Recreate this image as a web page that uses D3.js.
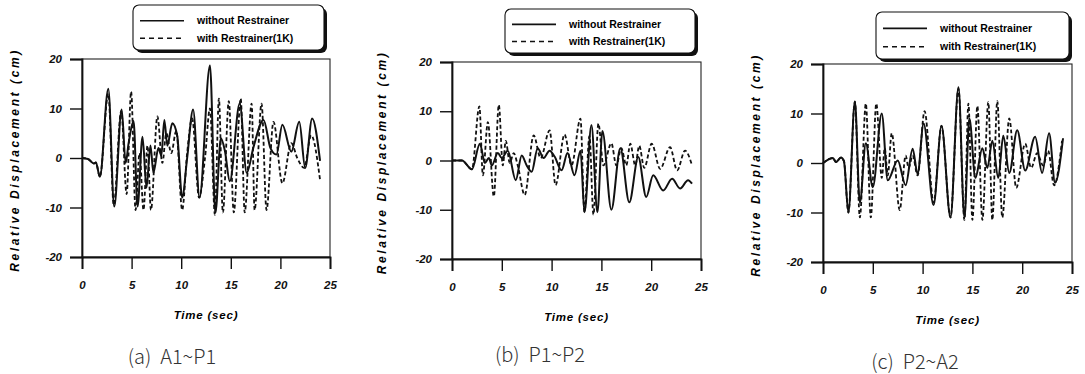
<!DOCTYPE html>
<html>
<head>
<meta charset="utf-8">
<script src="https://cdn.jsdelivr.net/npm/d3@7"></script>
<style>
  body { margin: 0; background: #fff; }
  svg { display: block; }
  .tick text { font-family: "Liberation Sans", Arial, sans-serif; font-weight: bold; font-style: italic; font-size: 11.5px; fill: #111; }
  .tick line { stroke: #111; stroke-width: 1.4; }
</style>
</head>
<body>
<svg id="chart" width="1085" height="374"></svg>
<script>
// tick values and labels
const timeTicks = [0, 5, 10, 15, 20, 25];
const dispTicks = [-20, -10, 0, 10, 20];
const legendLabels = ["without Restrainer", "with Restrainer(1K)"];
const captions = ["(a)  A1~P1", "(b)  P1~P2", "(c)  P2~A2"];
const xTitle = "Time (sec)";
const yTitle = "Relative Displacement (cm)";

// (a) A1-P1, [time sec, displacement cm] at turning points
const a1p1Without = [[0,0],[0.6,-0.2],[1.2,-1.1],[1.4,-0.9],[1.8,-3.8],[2.65,14],[3.25,-9.8],[4.0,9.8],[4.4,-1],[4.7,3],[5.2,7.5],[5.6,-9.8],[6.1,4.3],[6.5,-6],[6.9,2.5],[7.2,-3],[7.7,2],[8.0,0.5],[8.3,7.7],[8.6,2.5],[9.1,7],[9.6,4.5],[10.1,-8],[10.6,0],[11.2,9.8],[11.85,-8],[12.9,18.7],[13.45,-11],[14.0,4],[14.4,1.5],[14.9,-4.7],[15.9,11],[16.6,-3],[17.3,2.3],[18.3,7.7],[19.0,2],[19.6,0.7],[20.2,6.7],[21.1,1.3],[21.9,7.3],[22.5,-2],[23.2,8],[24.0,-0.6]];
const a1p1With = [[0,0],[0.6,-0.2],[1.2,-1.1],[1.4,-0.9],[1.8,-3.8],[2.65,13],[3.2,-9.5],[3.95,9.5],[4.5,-7.3],[4.95,13.4],[5.4,-10.5],[5.8,1],[6.2,-10.5],[6.6,2.5],[6.95,-10.5],[7.6,8.4],[8.1,-1],[8.5,5],[9.0,1],[9.5,5.5],[10.1,-10.5],[10.6,1],[11.1,8],[11.8,-8],[12.4,0],[12.9,10],[13.4,-11.5],[13.8,12],[14.2,-11],[14.8,11.5],[15.3,-11],[16.0,12],[16.4,-11],[17.1,11],[17.4,-10.5],[18.1,11],[18.6,-10.5],[19.3,7.3],[20.2,-5.1],[21.1,3],[21.7,0],[22.4,-2],[23.1,4.6],[24.0,-4.5]];

// (b) P1-P2
const p1p2Without = [[0,0],[1.0,0],[2.0,-1.8],[2.8,3.4],[3.3,-0.5],[3.7,0.5],[4.0,-1],[4.6,1.5],[5.0,0.5],[5.6,2],[6.4,-4],[7.0,1],[7.5,-1],[8.0,-2.3],[8.6,2.5],[9.2,0.5],[9.8,2],[10.3,0.8],[11.0,-2],[11.6,1.5],[12.3,-3],[12.9,2],[13.3,-10.5],[14.0,7.2],[14.6,-10.5],[15.1,6],[16.0,-10],[16.9,2.5],[17.8,-8.5],[18.7,0.7],[19.5,-7.4],[20.2,-3],[21.2,-6.1],[22.1,-3.7],[22.9,-5.7],[23.7,-4],[24.1,-4.7]];
const p1p2With = [[0,0],[1.0,0],[2.0,-1.8],[2.75,11],[3.1,-3],[3.6,7.8],[4.2,-7.3],[4.7,11.3],[5.1,-1],[5.4,4],[5.8,-0.5],[6.2,1.5],[6.6,-1],[7.3,-7],[8.2,5.1],[8.9,0.5],[9.8,6.1],[10.4,-5],[11.3,5.3],[12.0,-1],[12.9,8.5],[13.3,-10.5],[13.8,5],[14.2,-11],[14.7,7.5],[15.2,-1],[16.0,3.5],[16.5,-1],[17.0,2.5],[17.5,-1],[17.9,3.4],[18.4,-1],[18.8,3],[19.3,-1.5],[20.05,3.4],[20.9,-1.7],[21.9,2.7],[22.6,-2],[23.4,2.0],[24.1,-1]];

// (c) P2-A2
const p2a2Without = [[0,0],[1.0,1.0],[1.3,0.2],[1.8,1.1],[2.1,0.4],[2.55,-10],[3.2,12.4],[3.7,-8],[4.3,4],[5.0,-4.9],[5.9,10],[6.5,-3.5],[7.5,0.5],[8.3,-4.5],[9.0,2.9],[9.5,-2.2],[10.1,8],[11.1,-8.5],[11.9,7.5],[12.8,-11],[13.6,15.3],[14.2,-11],[14.7,9],[15.3,-3],[16.0,3],[16.5,-1],[17.0,4.5],[17.6,-3],[18.1,5.5],[18.7,-2],[19.5,6.6],[20.3,-1.5],[21.3,5.3],[22.0,-2],[22.7,6],[23.3,-4],[24.1,5]];
const p2a2With = [[0,0],[1.0,1.0],[1.3,0.2],[1.8,1.1],[2.1,0.4],[2.55,-10],[3.2,12.4],[3.7,-11],[4.3,12],[4.8,-11],[5.35,12],[5.9,-3],[6.2,3],[6.5,-2.5],[6.9,6],[7.7,-9.5],[8.3,1.5],[8.6,-1],[9.0,1.5],[9.5,-2.5],[10.2,10.5],[11.1,-8],[11.9,7.5],[12.8,-11],[13.6,15],[14.2,-11.5],[14.6,12],[15.0,-11.5],[15.5,11.5],[16.0,-11.5],[16.6,12.3],[17.0,-11.5],[17.5,12.5],[18.0,-11],[18.7,9],[19.4,-5],[20.3,3.9],[20.9,-1],[21.5,2],[22.1,-0.5],[22.6,2.5],[23.2,-4.5],[24.0,4.5]];

const panels = [
  { without: a1p1Without, with: a1p1With, caption: captions[0],
    left: 82, right: 330, top: 59, bottom: 257,
    legend: { x: 133, y: 5, w: 191, h: 45 }, cap: { x: 172, y: 357 }, titleDx: 67 },
  { without: p1p2Without, with: p1p2With, caption: captions[1],
    left: 452, right: 701, top: 62, bottom: 259,
    legend: { x: 505, y: 9, w: 190, h: 44 }, cap: { x: 540, y: 355 }, titleDx: 70 },
  { without: p2a2Without, with: p2a2With, caption: captions[2],
    left: 823, right: 1072, top: 64, bottom: 262,
    legend: { x: 876, y: 12, w: 193, h: 47 }, cap: { x: 915, y: 362 }, titleDx: 67 }
];

const svg = d3.select("#chart");

panels.forEach(p => {
  const g = svg.append("g");
  const x = d3.scaleLinear().domain([0, 25]).range([p.left, p.right]);
  const y = d3.scaleLinear().domain([-20, 20]).range([p.bottom, p.top]);

  // frame
  g.append("rect")
    .attr("x", p.left).attr("y", p.top)
    .attr("width", p.right - p.left).attr("height", p.bottom - p.top)
    .attr("fill", "none").attr("stroke", "#222").attr("stroke-width", 1.1);

  const xAxis = g.append("g")
    .attr("transform", `translate(0,${p.bottom})`)
    .call(d3.axisBottom(x).tickValues(timeTicks).tickFormat(d => String(d)).tickSize(12).tickPadding(12));
  xAxis.select(".domain").attr("stroke", "#111").attr("stroke-width", 1.8);

  const yAxis = g.append("g")
    .attr("transform", `translate(${p.left},0)`)
    .call(d3.axisLeft(y).tickValues(dispTicks).tickFormat(d => String(d)).tickSize(12).tickPadding(8));
  yAxis.select(".domain").attr("stroke", "#111").attr("stroke-width", 1.8);

  // series
  const line = d3.line()
    .x(d => x(d[0]))
    .y(d => y(d[1]))
    .curve(d3.curveMonotoneX);

  g.append("path").datum(p.with)
    .attr("d", line)
    .attr("fill", "none").attr("stroke", "#111")
    .attr("stroke-width", 1.8).attr("stroke-dasharray", "4,2.5");

  g.append("path").datum(p.without)
    .attr("d", line)
    .attr("fill", "none").attr("stroke", "#111")
    .attr("stroke-width", 2);

  // axis titles
  g.append("text")
    .attr("x", (p.left + p.right) / 2).attr("y", p.bottom + 62)
    .attr("text-anchor", "middle")
    .style("font-family", "Liberation Sans, Arial, sans-serif")
    .style("font-weight", "bold").style("font-style", "italic")
    .style("font-size", "11.5px").style("letter-spacing", "0.8px")
    .text(xTitle);

  g.append("text")
    .attr("transform", `translate(${p.left - p.titleDx},${(p.top + p.bottom) / 2 + 2}) rotate(-90)`)
    .attr("text-anchor", "middle")
    .attr("dy", "0.35em")
    .style("font-family", "Liberation Sans, Arial, sans-serif")
    .style("font-weight", "bold").style("font-style", "italic")
    .style("font-size", "12px").style("letter-spacing", "2.6px")
    .text(yTitle);

  // legend box with shadow
  const L = p.legend;
  const lg = g.append("g").attr("transform", `translate(${L.x},${L.y})`);
  lg.append("rect").attr("x", 3).attr("y", 3).attr("width", L.w).attr("height", L.h)
    .attr("rx", 6).attr("fill", "#111");
  lg.append("rect").attr("width", L.w).attr("height", L.h)
    .attr("rx", 6).attr("fill", "#fff").attr("stroke", "#111").attr("stroke-width", 1.1);

  legendLabels.forEach((lab, i) => {
    const ly = L.h * (i === 0 ? 0.35 : 0.74);
    lg.append("line")
      .attr("x1", 7).attr("x2", 51).attr("y1", ly).attr("y2", ly)
      .attr("stroke", "#111").attr("stroke-width", i === 0 ? 1.7 : 1.5)
      .attr("stroke-dasharray", i === 0 ? null : "5,4");
    lg.append("text")
      .attr("x", 64).attr("y", ly).attr("dy", "0.35em")
      .style("font-family", "Liberation Sans, Arial, sans-serif")
      .style("font-weight", "bold").style("font-size", "10.5px")
      .text(lab);
  });

  // caption
  g.append("text")
    .attr("x", p.cap.x).attr("y", p.cap.y).attr("dy", "0.35em")
    .attr("text-anchor", "middle")
    .attr("xml:space", "preserve")
    .style("white-space", "pre")
    .style("font-family", "Noto Sans CJK KR, Noto Sans, sans-serif")
    .style("font-weight", 300).style("font-size", "20px")
    .style("fill", "#333")
    .text(p.caption);
});
</script>
</body>
</html>
